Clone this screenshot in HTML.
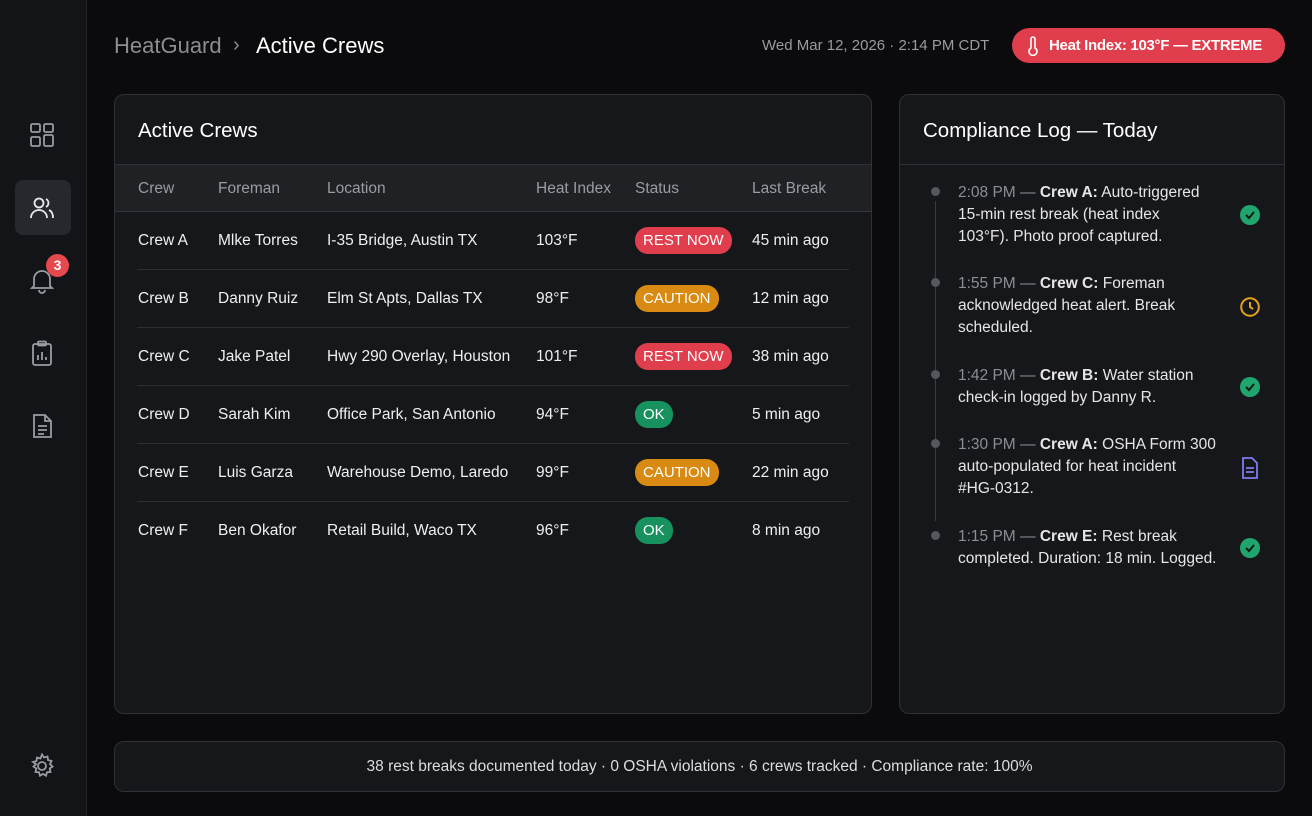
<!DOCTYPE html>
<html><head><meta charset="utf-8"><style>
*{box-sizing:border-box;margin:0;padding:0}
body{width:1312px;height:816px;background:#0b0b0d;font-family:"Liberation Sans",sans-serif;color:#e8e9eb;position:relative;overflow:hidden}
.side{position:absolute;left:0;top:0;width:87px;height:816px;background:#131417;border-right:1px solid #25272b}
.ic{position:absolute;left:28px;width:28px;height:28px}
.card{position:absolute;background:#16171a;border:1px solid #2f3136;border-radius:10px}
.t{position:absolute;white-space:nowrap}
.badge{position:absolute;border-radius:13px;font-size:15px;color:#fff;height:27px;line-height:27px;padding:0 8px}
.row{position:absolute;left:22px;right:22px;height:1px;background:#2c2e32}
.log{position:absolute;left:58px;font-size:15.5px;line-height:22px;color:#e6e6e6;white-space:nowrap}
.log span{color:#8b8d92}
.dot{position:absolute;left:31px;width:9px;height:9px;border-radius:50%;background:#55575c}
</style></head><body>
<div class="side">
<svg class="ic" style="top:121px" viewBox="0 0 28 28" fill="none" stroke="#9a9ca1" stroke-width="1.8"><rect x="3" y="3" width="9" height="8" rx="1.5"/><rect x="16" y="3" width="9" height="8" rx="1.5"/><rect x="3" y="16" width="9" height="9" rx="1.5"/><rect x="16" y="14" width="9" height="11" rx="1.5"/></svg>
<div style="position:absolute;left:15px;top:180px;width:56px;height:55px;background:#26282d;border-radius:8px"></div>
<svg class="ic" style="top:194px" viewBox="0 0 28 28" fill="none" stroke="#e8e9eb" stroke-width="1.8"><circle cx="11" cy="9" r="4.5"/><path d="M3 24c0-5 4-8 8-8s8 3 8 8"/><path d="M18 5a4.5 4.5 0 0 1 0 8M21 16c2.5 1 4 4 4 8"/></svg>
<svg class="ic" style="top:266px" viewBox="0 0 28 28" fill="none" stroke="#9a9ca1" stroke-width="1.8"><path d="M6 20V13a8 8 0 0 1 16 0v7l2 2H4z"/><path d="M11 24a3 3 0 0 0 6 0"/></svg>
<div style="position:absolute;left:46px;top:254px;width:23px;height:23px;border-radius:50%;background:#e5484d;color:#fff;font-size:14px;text-align:center;line-height:23px;font-weight:bold">3</div>
<svg class="ic" style="top:339px" viewBox="0 0 28 28" fill="none" stroke="#9a9ca1" stroke-width="1.8"><rect x="5" y="5" width="18" height="21" rx="2"/><rect x="10" y="2.5" width="8" height="4" rx="1"/><path d="M10 21v-5M14 21v-8M18 21v-3"/></svg>
<svg class="ic" style="top:412px" viewBox="0 0 28 28" fill="none" stroke="#9a9ca1" stroke-width="1.8"><path d="M6 3h11l6 6v16H6z"/><path d="M17 3v6h6M10 14h9M10 18h9M10 22h6"/></svg>
<svg class="ic" style="top:752px" viewBox="0 0 28 28" fill="none" stroke="#9a9ca1" stroke-width="1.8"><circle cx="14" cy="14" r="4"/><path d="M14 2.5l2 3 3.5-1 .5 3.5 3.5 1-1.5 3.2 2.5 2.3-2.8 2 .8 3.5-3.5.2-1 3.5-3-1.8-3 1.8-1-3.5-3.5-.2.8-3.5-2.8-2 2.5-2.3L5 10l3.5-1L9 5.5l3.5 1z"/></svg>
</div>
<div class="t" style="left:114px;top:33px;font-size:22px;color:#8b8d92">HeatGuard</div>
<div class="t" style="left:233px;top:34px;font-size:20px;color:#8b8d92">›</div>
<div class="t" style="left:256px;top:33px;font-size:22px;color:#fff">Active Crews</div>
<div class="t" style="left:762px;top:37px;font-size:15px;color:#9a9ca1">Wed Mar 12, 2026 · 2:14 PM CDT</div>
<div style="position:absolute;left:1012px;top:28px;width:273px;height:35px;border-radius:18px;background:#e03e4c;color:#fff;font-size:15px;font-weight:bold;line-height:35px;padding-left:37px;white-space:nowrap;letter-spacing:-0.3px">Heat Index: 103°F — EXTREME</div>
<svg style="position:absolute;left:1026px;top:36px" width="14" height="20" viewBox="0 0 14 20" fill="none" stroke="#fff" stroke-width="1.6"><path d="M5 3a2 2 0 0 1 4 0v9a4 4 0 1 1-4 0z"/></svg>

<div class="card" style="left:114px;top:94px;width:758px;height:620px;overflow:hidden">
<div class="t" style="left:23px;top:24px;font-size:20.5px;color:#fff">Active Crews</div>
<div style="position:absolute;left:0;top:69px;width:100%;height:48px;background:#1f2125;border-top:1px solid #2f3136;border-bottom:1px solid #34363b"></div>
<div style="font-size:15.5px;color:#9a9ca1">
<div class="t" style="left:23px;top:85px">Crew</div><div class="t" style="left:103px;top:85px">Foreman</div><div class="t" style="left:212px;top:85px">Location</div><div class="t" style="left:421px;top:85px">Heat Index</div><div class="t" style="left:520px;top:85px">Status</div><div class="t" style="left:637px;top:85px">Last Break</div>
</div>
<div style="font-size:15.5px;color:#eeeff1">
<div class="t" style="left:23px;top:137px">Crew A</div><div class="t" style="left:103px;top:137px">Mlke Torres</div><div class="t" style="left:212px;top:137px">I-35 Bridge, Austin TX</div><div class="t" style="left:421px;top:137px">103°F</div><div class="badge" style="left:520px;top:132px;background:#e03e4c">REST NOW</div><div class="t" style="left:637px;top:137px">45 min ago</div>
<div class="row" style="top:174px"></div>
<div class="t" style="left:23px;top:195px">Crew B</div><div class="t" style="left:103px;top:195px">Danny Ruiz</div><div class="t" style="left:212px;top:195px">Elm St Apts, Dallas TX</div><div class="t" style="left:421px;top:195px">98°F</div><div class="badge" style="left:520px;top:190px;background:#d98a12">CAUTION</div><div class="t" style="left:637px;top:195px">12 min ago</div>
<div class="row" style="top:232px"></div>
<div class="t" style="left:23px;top:253px">Crew C</div><div class="t" style="left:103px;top:253px">Jake Patel</div><div class="t" style="left:212px;top:253px">Hwy 290 Overlay, Houston</div><div class="t" style="left:421px;top:253px">101°F</div><div class="badge" style="left:520px;top:248px;background:#e03e4c">REST NOW</div><div class="t" style="left:637px;top:253px">38 min ago</div>
<div class="row" style="top:290px"></div>
<div class="t" style="left:23px;top:311px">Crew D</div><div class="t" style="left:103px;top:311px">Sarah Kim</div><div class="t" style="left:212px;top:311px">Office Park, San Antonio</div><div class="t" style="left:421px;top:311px">94°F</div><div class="badge" style="left:520px;top:306px;background:#17925f">OK</div><div class="t" style="left:637px;top:311px">5 min ago</div>
<div class="row" style="top:348px"></div>
<div class="t" style="left:23px;top:369px">Crew E</div><div class="t" style="left:103px;top:369px">Luis Garza</div><div class="t" style="left:212px;top:369px">Warehouse Demo, Laredo</div><div class="t" style="left:421px;top:369px">99°F</div><div class="badge" style="left:520px;top:364px;background:#d98a12">CAUTION</div><div class="t" style="left:637px;top:369px">22 min ago</div>
<div class="row" style="top:406px"></div>
<div class="t" style="left:23px;top:427px">Crew F</div><div class="t" style="left:103px;top:427px">Ben Okafor</div><div class="t" style="left:212px;top:427px">Retail Build, Waco TX</div><div class="t" style="left:421px;top:427px">96°F</div><div class="badge" style="left:520px;top:422px;background:#17925f">OK</div><div class="t" style="left:637px;top:427px">8 min ago</div>
</div>
</div>

<div class="card" style="left:899px;top:94px;width:386px;height:620px">
<div class="t" style="left:23px;top:24px;font-size:20.5px;color:#fff">Compliance Log — Today</div>
<div style="position:absolute;left:0;top:69px;width:100%;height:1px;background:#2f3136"></div>
<div style="position:absolute;left:35px;top:106px;width:1px;height:320px;background:#3a3c41"></div>
<div class="dot" style="top:92px"></div><div class="log" style="top:87px"><span>2:08 PM —</span> <b style="font-weight:600">Crew A:</b> Auto-triggered<br>15-min rest break (heat index<br>103°F). Photo proof captured.</div>
<div class="dot" style="top:183px"></div><div class="log" style="top:178px"><span>1:55 PM —</span> <b style="font-weight:600">Crew C:</b> Foreman<br>acknowledged heat alert. Break<br>scheduled.</div>
<div class="dot" style="top:275px"></div><div class="log" style="top:270px"><span>1:42 PM —</span> <b style="font-weight:600">Crew B:</b> Water station<br>check-in logged by Danny R.</div>
<div class="dot" style="top:344px"></div><div class="log" style="top:339px"><span>1:30 PM —</span> <b style="font-weight:600">Crew A:</b> OSHA Form 300<br>auto-populated for heat incident<br>#HG-0312.</div>
<div class="dot" style="top:436px"></div><div class="log" style="top:431px"><span>1:15 PM —</span> <b style="font-weight:600">Crew E:</b> Rest break<br>completed. Duration: 18 min. Logged.</div>
<svg style="position:absolute;left:340px;top:110px" width="20" height="20"><circle cx="10" cy="10" r="10" fill="#1fa56d"/><path d="M6 10l3 3 5-6" stroke="#0d1a14" stroke-width="2" fill="none"/></svg>
<svg style="position:absolute;left:340px;top:202px" width="20" height="20"><circle cx="10" cy="10" r="8.8" fill="none" stroke="#e6a019" stroke-width="2"/><path d="M10 5v5l3 2" stroke="#e6a019" stroke-width="2" fill="none"/></svg>
<svg style="position:absolute;left:340px;top:282px" width="20" height="20"><circle cx="10" cy="10" r="10" fill="#1fa56d"/><path d="M6 10l3 3 5-6" stroke="#0d1a14" stroke-width="2" fill="none"/></svg>
<svg style="position:absolute;left:341px;top:362px" width="18" height="22" viewBox="0 0 18 22" fill="none" stroke="#7f7bf0" stroke-width="1.8"><path d="M2 1h9l5 5v15H2z"/><path d="M5 11h8M5 15h8"/></svg>
<svg style="position:absolute;left:340px;top:443px" width="20" height="20"><circle cx="10" cy="10" r="10" fill="#1fa56d"/><path d="M6 10l3 3 5-6" stroke="#0d1a14" stroke-width="2" fill="none"/></svg>
</div>

<div class="card" style="left:114px;top:741px;width:1171px;height:51px;text-align:center;font-size:15.5px;line-height:49px;color:#dcdde0">38 rest breaks documented today · 0 OSHA violations · 6 crews tracked · Compliance rate: 100%</div>
</body></html>
